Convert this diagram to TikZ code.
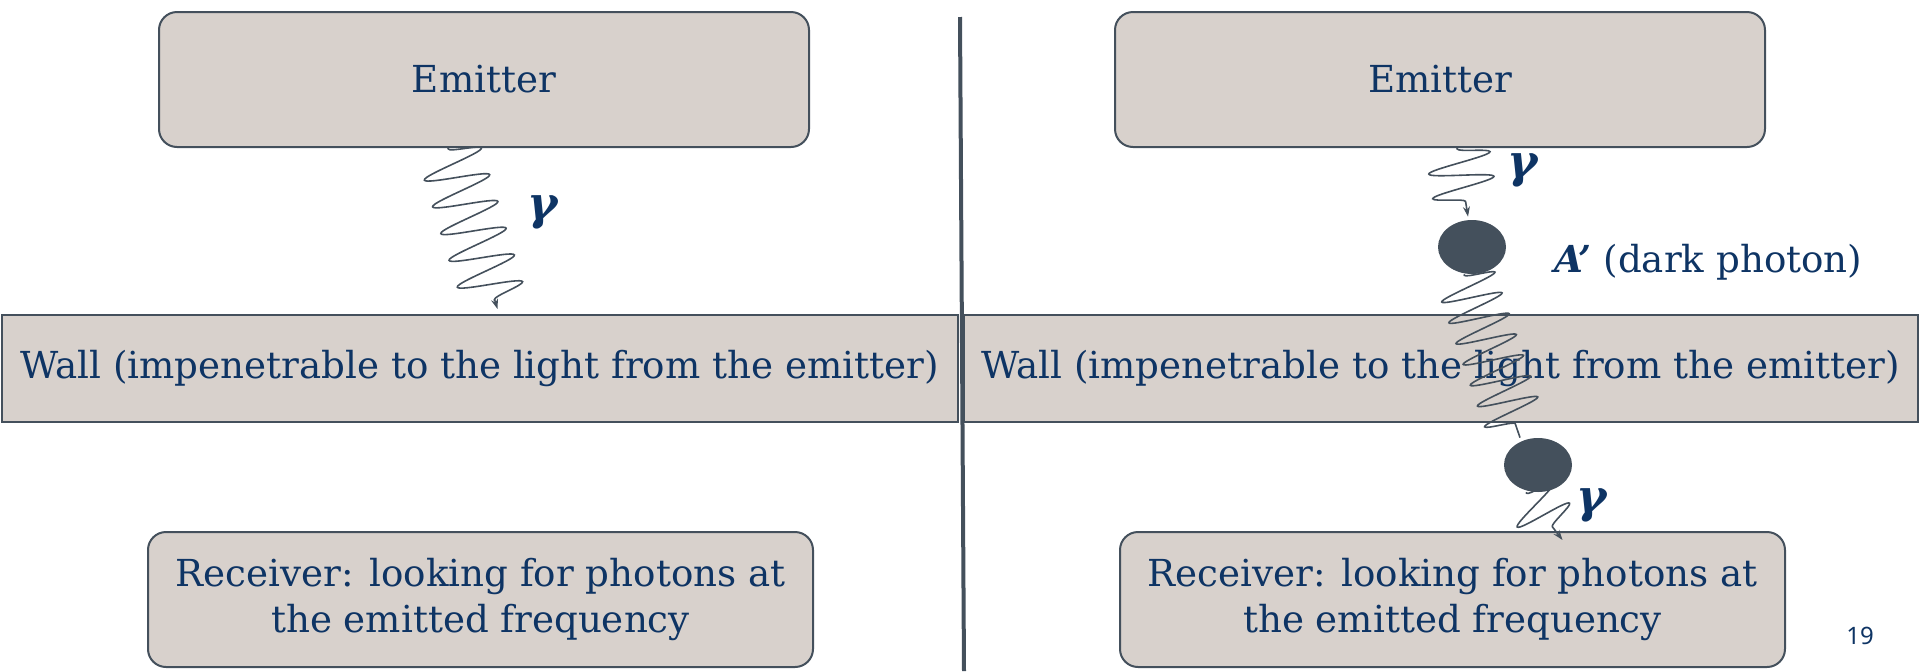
\documentclass[tikz,border=0pt]{standalone}
\usepackage{fontspec}
\setmainfont{DejaVu Serif}
\newfontfamily\pagefont{Noto Sans}
\usetikzlibrary{positioning,shapes.geometric,decorations.pathmorphing,arrows.meta}

\definecolor{navy}{HTML}{0E3464}
\definecolor{slate}{HTML}{44505C}
\definecolor{taupe}{HTML}{D8D1CC}

\tikzset{
  box/.style={draw=slate, line width=1pt, fill=taupe, text=navy, align=center,
    inner sep=0pt, font=\fontsize{18.6}{22.6}\selectfont},
  wave/.style 2 args={slate, line width=0.8pt, -{Stealth[length=5pt,width=3.5pt]},
    decorate, decoration={snake, amplitude=#1, segment length=#2,
    pre length=0.5pt, post length=2.5pt}},
  blob/.style={ellipse, fill=slate, minimum width=34pt, minimum height=27pt, inner sep=0pt},
  lbl/.style={text=navy, inner sep=0pt, font=\fontsize{18.6}{22}\selectfont},
  gam/.style={text=navy, inner sep=0pt, font=\fontsize{23}{27}\selectfont\bfseries\itshape}
}

\begin{document}
\begin{tikzpicture}[x=0.5pt, y=-0.5pt]
    \useasboundingbox (0,0) rectangle (1919,671);

    \coordinate (divtop) at (960,17);
    \coordinate (divbot) at (964,671);

    % boxes
    \foreach \n/\x in {emitL/484, emitR/1440}
        \node[box, rounded corners=9pt, minimum width=325pt, minimum height=67.5pt] (\n) at (\x,79.5) {Emitter};
    \foreach \n/\x/\w in {wallL/479.5/478pt, wallR/1440.5/477pt}
        \node[box, minimum width=\w, minimum height=53.5pt] (\n) at (\x,368.5)
            {Wall (impenetrable to the light from the emitter)};
    \foreach \n/\x in {recvL/480.5, recvR/1452.5}
        \node[box, rounded corners=9pt, minimum width=332.5pt, minimum height=67.5pt] (\n) at (\x,599.5)
            {Receiver: looking for photons at\\the emitted frequency};

    % dark photon blobs
    \node[blob] (blobA) at (1472,247) {};
    \node[blob] (blobB) at (1538,465) {};

    % photon lines
    \draw[wave={16pt}{14pt}] ([xshift=-18pt]emitL.south) -- ([shift={(9pt,2.5pt)}]wallL.north);
    \draw[wave={16pt}{12.5pt}] ([xshift=8.5pt]emitR.south) -- ([shift={(-2pt,1.5pt)}]blobA.north);
    \draw[wave={15pt}{11pt}, -] ([xshift=-4pt]blobA.south) -- ([xshift=-9pt]blobB.north);
    \draw[wave={14pt}{13pt}] ([xshift=-6pt]blobB.south) -- ([shift={(55pt,-4.5pt)}]recvR.north);

    % labels
    \foreach \n/\x/\y in {gamL/543/212, gamR/1523/170, gamB/1592/505}
        \node[gam] (\n) at (\x,\y) {γ};
    \node[lbl, anchor=west] (darkA) at (1554,262) {\textbf{\textit{A’}} (dark photon)};
    \node[text=navy, font=\pagefont\fontsize{12}{14}\selectfont] (pgno) at (1860,636) {19};

    \draw[slate, line width=2pt] (divtop) -- (divbot);
\end{tikzpicture}
\end{document}
